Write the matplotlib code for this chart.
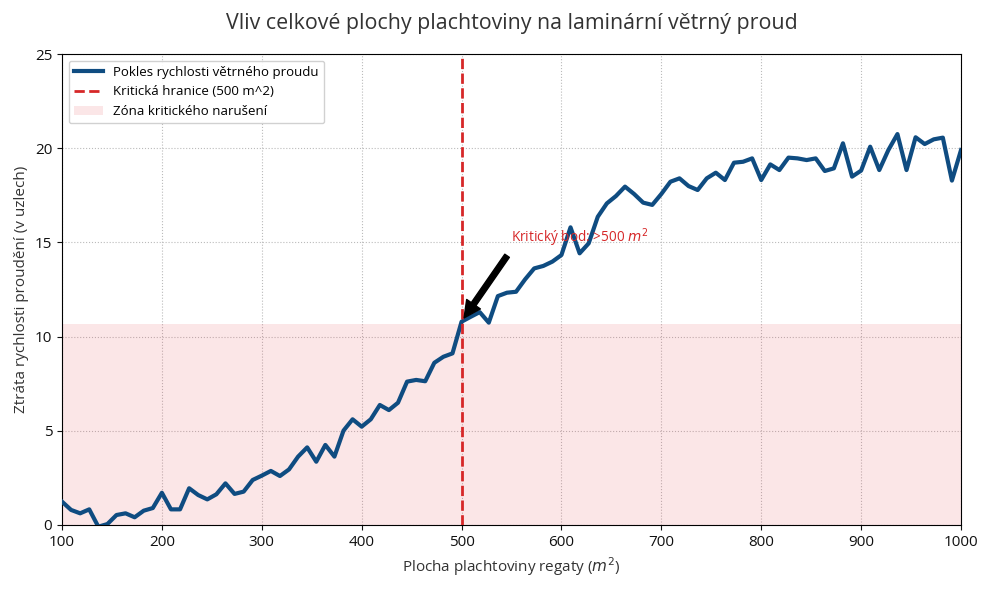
import matplotlib
matplotlib.use("Agg")
import matplotlib.pyplot as plt
import numpy as np

plt.rcParams['font.family'] = ['Open Sans', 'DejaVu Sans']
plt.rcParams['mathtext.fontset'] = 'dejavusans'

# Data
area_start, area_end, n_points = 100, 1000, 100
speed_loss = [
    1.24, 0.80, 0.62, 0.83, -0.09, 0.05, 0.53, 0.62, 0.41, 0.76,
    0.90, 1.71, 0.83, 0.83, 1.95, 1.59, 1.36, 1.63, 2.21, 1.65,
    1.77, 2.39, 2.62, 2.87, 2.60, 2.95, 3.63, 4.12, 3.36, 4.25,
    3.63, 5.01, 5.61, 5.22, 5.61, 6.37, 6.10, 6.49, 7.61, 7.70,
    7.63, 8.61, 8.93, 9.11, 10.79, 11.05, 11.30, 10.74, 12.15, 12.33,
    12.38, 13.04, 13.62, 13.75, 13.98, 14.33, 15.80, 14.42, 14.95, 16.36,
    17.07, 17.46, 17.96, 17.57, 17.11, 16.99, 17.57, 18.22, 18.40, 17.99,
    17.78, 18.40, 18.70, 18.31, 19.23, 19.28, 19.46, 18.31, 19.14, 18.84,
    19.50, 19.46, 19.37, 19.46, 18.79, 18.93, 20.26, 18.49, 18.81, 20.08,
    18.84, 19.90, 20.75, 18.84, 20.58, 20.22, 20.47, 20.56, 18.28, 19.90,
]
area = np.linspace(area_start, area_end, n_points)
critical_area = 500
critical_loss = 10.67
annot_xy = (500, 10.8)
annot_text_xy = (550, 15.0)

title = "Vliv celkové plochy plachtoviny na laminární větrný proud"
xlabel = "Plocha plachtoviny regaty ($m^2$)"
ylabel = "Ztráta rychlosti proudění (v uzlech)"
label_line = "Pokles rychlosti větrného proudu"
label_crit = "Kritická hranice (500 m^2)"
label_zone = "Zóna kritického narušení"
annot_label = "Kritický bod: >500 $m^2$"

fig = plt.figure(figsize=(9.89, 5.90), dpi=100)
ax = fig.add_axes([62/989, 1-525/590, (961-62)/989, (525-54)/590])

ax.axhspan(0, critical_loss, color='#e6323e', alpha=0.12, lw=0, label=label_zone, zorder=1)
ax.plot(area, speed_loss, color='#0f4c81', lw=3, label=label_line, zorder=3)
ax.axvline(critical_area, color='#d62728', ls='--', lw=2, label=label_crit, zorder=4)

ax.annotate(annot_label, xy=annot_xy, xytext=annot_text_xy,
            color='#d62728', fontsize=9.8,
            arrowprops=dict(facecolor='black', edgecolor='black', shrink=0.05), zorder=5)

ax.set_xlim(100, 1000)
ax.set_ylim(0, 25)
ax.set_xticks(np.arange(100, 1001, 100))
ax.set_yticks(np.arange(0, 26, 5))
ax.grid(True, ls=':', color='#bbbbbb', lw=0.8, zorder=0)
ax.set_axisbelow(True)
ax.tick_params(labelsize=11, colors='#111111')

ax.set_title(title, fontsize=15.4, color='#333333', pad=18)
ax.set_xlabel(xlabel, fontsize=11, color='#333333')
ax.set_ylabel(ylabel, fontsize=11, color='#333333')

handles, labels = ax.get_legend_handles_labels()
order = [labels.index(label_line), labels.index(label_crit), labels.index(label_zone)]
ax.legend([handles[i] for i in order], [labels[i] for i in order],
          loc='upper left', fontsize=9.5, framealpha=0.9, handlelength=2.2)

fig.savefig("out.png", dpi=100)
